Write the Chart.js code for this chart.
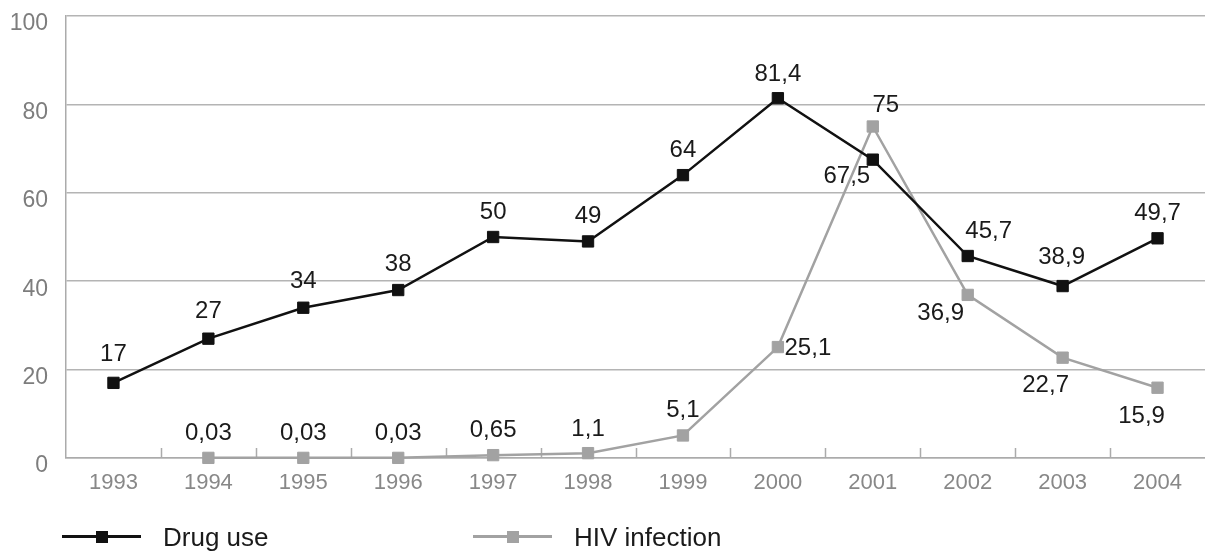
<!DOCTYPE html>
<html>
<head>
<meta charset="utf-8">
<script src="https://cdn.jsdelivr.net/npm/chart.js@4.4.1/dist/chart.umd.min.js"></script>
<style>
  html, body { margin: 0; padding: 0; background: #fff; }
  #wrap { position: relative; width: 1205px; height: 552px; font-family: "Liberation Sans", Arial, sans-serif; }
  #legend { position: absolute; left: 0; top: 522px; width: 1205px; height: 30px; }
  .item { position: absolute; top: 0; height: 30px; }
  .line { position: absolute; top: 13px; width: 79px; height: 2.5px; }
  .mark { position: absolute; top: 8.5px; left: 34px; width: 12px; height: 12px; }
  .txt { position: absolute; left: 101px; top: 0px; font-size: 26px; color: #1a1a1a; white-space: nowrap; }
</style>
</head>
<body>
<div id="wrap">
  <canvas id="chart"></canvas>
  <div id="legend"></div>
</div>
<script>
const years = ['1993', '1994', '1995', '1996', '1997', '1998', '1999', '2000', '2001', '2002', '2003', '2004'];
const drugUse = [17, 27, 34, 38, 50, 49, 64, 81.4, 67.5, 45.7, 38.9, 49.7];
const hivInfection = [null, 0.03, 0.03, 0.03, 0.65, 1.1, 5.1, 25.1, 75, 36.9, 22.7, 15.9];
const yTicks = [0, 20, 40, 60, 80, 100];

// where each value label sits relative to its point (px)
const drugLabelPos = [[0, -28], [0, -27], [0, -26], [0, -26], [0, -25], [0, -25], [0, -25], [0, -24],
  [-26, 17], [21, -25], [-1, -29], [0, -25]];
const hivLabelPos = [null, [0, -24], [0, -24], [0, -24], [0, -25], [0, -24], [0, -25], [30, 1],
  [13, -21], [-27, 18], [-17, 28], [-16, 29]];

const series = [
  { label: 'Drug use', data: drugUse, color: '#111111', pos: drugLabelPos, left: 62 },
  { label: 'HIV infection', data: hivInfection, color: '#a2a2a2', pos: hivLabelPos, left: 473 }
];

const fmt = v => String(v).replace('.', ',');
const FONT = '"Liberation Sans", Arial, sans-serif';

const valueLabels = {
  id: 'valueLabels',
  afterDatasetsDraw(chart) {
    const ctx = chart.ctx;
    ctx.save();
    ctx.font = '24px ' + FONT;
    ctx.fillStyle = '#1a1a1a';
    ctx.textAlign = 'center';
    ctx.textBaseline = 'middle';
    chart.data.datasets.forEach((ds, di) => {
      const meta = chart.getDatasetMeta(di);
      meta.data.forEach((pt, i) => {
        const v = ds.data[i];
        if (v === null) return;
        const off = series[di].pos[i];
        ctx.fillText(fmt(v), pt.x + off[0], pt.y + off[1]);
      });
    });
    ctx.restore();
  }
};

// short tick marks between categories, pointing up from the axis
const betweenTicks = {
  id: 'betweenTicks',
  beforeDatasetsDraw(chart) {
    const xs = chart.scales.x;
    const ctx = chart.ctx;
    const bottom = chart.chartArea.bottom;
    ctx.save();
    ctx.strokeStyle = '#ababab';
    ctx.lineWidth = 1.5;
    ctx.beginPath();
    for (let i = 0; i < years.length - 1; i++) {
      const x = Math.round((xs.getPixelForValue(i) + xs.getPixelForValue(i + 1)) / 2) + 0.5;
      ctx.moveTo(x, bottom);
      ctx.lineTo(x, bottom - 10);
    }
    ctx.stroke();
    ctx.restore();
  }
};

new Chart(document.getElementById('chart'), {
  type: 'line',
  data: {
    labels: years,
    datasets: series.map(s => ({
      label: s.label,
      data: s.data,
      borderColor: s.color,
      backgroundColor: s.color,
      borderWidth: 2.5,
      pointStyle: 'rect',
      pointRadius: 8,
      pointBorderWidth: 1,
      pointBorderColor: s.color,
      pointBackgroundColor: s.color,
      tension: 0,
      clip: false
    }))
  },
  options: {
    responsive: true,
    maintainAspectRatio: false,
    animation: false,
    layout: { autoPadding: false, padding: { top: 16, right: 0, bottom: 58, left: 0 } },
    plugins: { legend: { display: false }, tooltip: { enabled: false } },
    scales: {
      x: {
        offset: true,
        grid: { display: true, drawOnChartArea: false, drawTicks: false },
        border: { display: true, color: '#ababab', width: 1.5 },
        ticks: { color: '#888', padding: 12, font: { family: FONT, size: 22 } },
        afterFit: s => { s.height = 36; s.paddingLeft = 0; s.paddingRight = 0; }
      },
      y: {
        min: 0,
        max: 100,
        afterBuildTicks: s => { s.ticks = yTicks.map(v => ({ value: v })); },
        grid: { color: '#b4b4b4', lineWidth: 1.5, drawTicks: false },
        border: { display: true, color: '#ababab', width: 1.5 },
        ticks: { color: '#7d7d7d', padding: 18, labelOffset: 8, font: { family: FONT, size: 23 } },
        afterFit: s => { s.width = 66; s.paddingTop = 0; s.paddingBottom = 0; }
      }
    }
  },
  plugins: [betweenTicks, valueLabels]
});

// legend drawn as html below the plot
const legend = document.getElementById('legend');
series.forEach(s => {
  const item = document.createElement('div');
  item.className = 'item';
  item.style.left = s.left + 'px';
  item.innerHTML = '<div class="line" style="background:' + s.color + '"></div>' +
    '<div class="mark" style="background:' + s.color + '"></div>' +
    '<div class="txt">' + s.label + '</div>';
  legend.appendChild(item);
});
</script>
</body>
</html>
